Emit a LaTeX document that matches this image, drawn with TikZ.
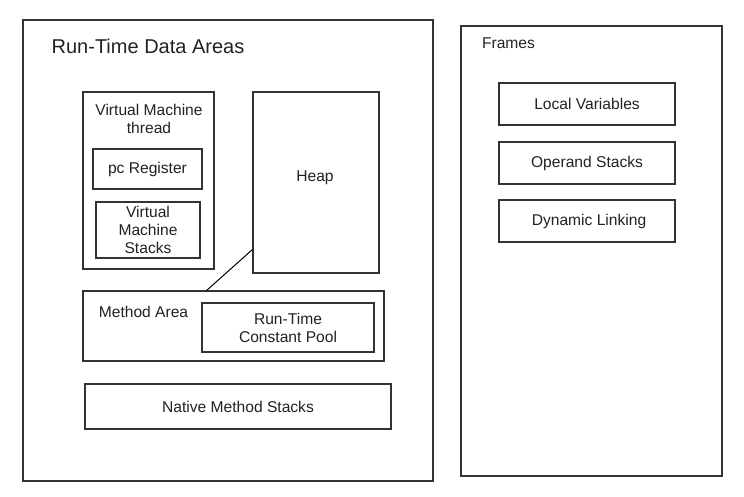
\documentclass[tikz,border=0pt]{standalone}
\usepackage{fontspec}
\setmainfont{Liberation Sans}
\usetikzlibrary{calc}
\definecolor{ln}{HTML}{333333}
\definecolor{tx}{HTML}{222222}
\begin{document}
\begin{tikzpicture}[x=1pt,y=-1pt,
  box/.style={draw=ln,line width=1.3pt,inner sep=0pt,outer sep=0pt,align=center,text=tx,font=\fontsize{15.6}{18}\selectfont},
  lbl/.style={inner sep=0pt,align=center,text=tx,font=\fontsize{15.6}{18}\selectfont}]
\useasboundingbox[fill=white] (0,0) rectangle (744,497);
% outer containers
\node[box,minimum width=410,minimum height=461] (rtda) at (228,250.5) {};
\node[box,minimum width=261,minimum height=450] (frames) at (591.5,251) {};
% titles
\node[lbl,font=\fontsize{20}{24}\selectfont] (title) at (148,46) {Run-Time Data Areas};
\node[lbl] (ftitle) at (508.5,43) {Frames};
% VM thread
\node[box,minimum width=131,minimum height=177] (vmt) at (148.5,180.5) {};
\node[lbl] (vmtl) at (149,119) {Virtual Machine\\thread};
\node[box,minimum width=109,minimum height=40] (pc) at (147.5,169) {pc Register};
\node[box,minimum width=104,minimum height=56] (vms) at (148,230) {Virtual\\Machine\\Stacks};
% heap
\node[box,minimum width=126,minimum height=181] (heap) at (316,182.5) {};
\node[lbl] (heapl) at (315,178) {Heap};
% method area
\node[box,minimum width=301,minimum height=70] (method) at (233.5,326) {};
\node[lbl] (methodl) at (143.5,312) {Method Area};
\node[box,minimum width=172,minimum height=49] (rtcp) at (288,327.5) {Run-Time\\Constant Pool};
% native
\node[box,minimum width=306,minimum height=45] (native) at (238,406.5) {Native Method Stacks};
% frames content
\node[box,minimum width=176,minimum height=42] (lv) at (587,104) {Local Variables};
\node[box,minimum width=176,minimum height=42] (os) at (587,163) {Operand Stacks};
\node[box,minimum width=176,minimum height=42] (dl) at (587,221) {\hspace*{4pt}Dynamic Linking};
% connector
\coordinate (hp) at ($(heap.south west)+(0,-24)$);
\coordinate (mp) at ($(method.north west)+(123,0)$);
\draw[draw=black,line width=1pt] (hp) -- (mp);
\end{tikzpicture}
\end{document}
